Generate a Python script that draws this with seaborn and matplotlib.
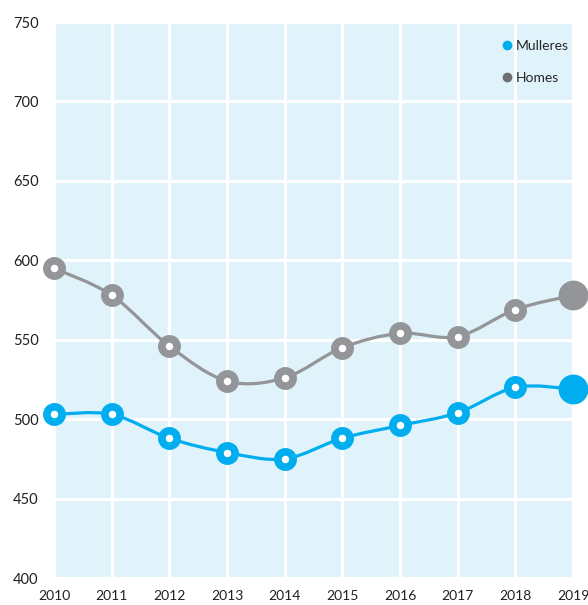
import numpy as np
import pandas as pd
import seaborn as sns
import matplotlib.pyplot as plt
from matplotlib.path import Path
from matplotlib.patches import PathPatch
from matplotlib.lines import Line2D

years = [2010, 2011, 2012, 2013, 2014, 2015, 2016, 2017, 2018, 2019]
mulleres = [503, 503, 488, 479, 475, 488, 496, 504, 520, 519]
homes = [595, 578, 546, 524, 526, 545, 554, 552, 569, 578]
series_names = ["Mulleres", "Homes"]
line_colors = ["#00AEEF", "#939598"]
legend_colors = ["#00AEEF", "#6D6E71"]
yticks = [400, 450, 500, 550, 600, 650, 700, 750]

df = pd.DataFrame({"year": years * 2,
                   "value": mulleres + homes,
                   "serie": ["Mulleres"] * len(years) + ["Homes"] * len(years)})

sns.set_theme(style="whitegrid", rc={
    "axes.facecolor": "#E0F2FA",
    "grid.color": "white",
    "grid.linewidth": 2.3,
    "axes.edgecolor": "white",
})
plt.rcParams["font.family"] = ["Lato", "DejaVu Sans"]

fig = plt.figure(figsize=(5.88, 6.05), dpi=100)
ax = fig.add_axes([54 / 588, 1 - 578 / 605, (573 - 54) / 588, (578 - 22) / 605])


def smooth_path(x, y):
    # catmull-rom -> bezier, only for drawing the curved line
    x = np.asarray(x, float)
    y = np.asarray(y, float)
    verts = [(x[0], y[0])]
    codes = [Path.MOVETO]
    n = len(x)
    for i in range(n - 1):
        x0, y0 = (x[i - 1], y[i - 1]) if i > 0 else (x[i], y[i])
        x3, y3 = (x[i + 2], y[i + 2]) if i + 2 < n else (x[i + 1], y[i + 1])
        c1 = (x[i] + (x[i + 1] - x0) / 6, y[i] + (y[i + 1] - y0) / 6)
        c2 = (x[i + 1] - (x3 - x[i]) / 6, y[i + 1] - (y3 - y[i]) / 6)
        verts += [c1, c2, (x[i + 1], y[i + 1])]
        codes += [Path.CURVE4] * 3
    return Path(verts, codes)


for name, col in zip(series_names, line_colors):
    sub = df[df["serie"] == name]
    ax.add_patch(PathPatch(smooth_path(sub["year"], sub["value"]), fill=False,
                           edgecolor=col, lw=2.3, zorder=3, clip_on=False))
    sns.lineplot(data=sub.iloc[:-1], x="year", y="value", ax=ax, linestyle="none",
                 marker="o", markersize=11, markerfacecolor="white",
                 markeredgecolor=col, markeredgewidth=5.5, zorder=4, clip_on=False)
    sns.lineplot(data=sub.iloc[-1:], x="year", y="value", ax=ax, linestyle="none",
                 marker="o", markersize=21.5, markerfacecolor=col,
                 markeredgecolor=col, markeredgewidth=0, zorder=4, clip_on=False)

ax.set_xlim(2010, 2019)
ax.set_ylim(400, 750)
ax.set_xticks(years)
ax.set_yticks(yticks)
ax.set_xlabel("")
ax.set_ylabel("")
ax.tick_params(axis="y", length=0, pad=11, labelsize=10.5, labelcolor="#231F20")
ax.tick_params(axis="x", length=0, pad=9, labelsize=10, labelcolor="#231F20")
for s in ax.spines.values():
    s.set_visible(False)

handles = [Line2D([], [], linestyle="none", marker="o", markersize=7,
                  markerfacecolor=c, markeredgewidth=0) for c in legend_colors]
ax.legend(handles, series_names, loc="upper right", bbox_to_anchor=(1.015, 0.99),
          frameon=False, fontsize=10, handletextpad=0.1, labelspacing=1.45,
          handlelength=1.0)

fig.savefig("out.png", dpi=100)
